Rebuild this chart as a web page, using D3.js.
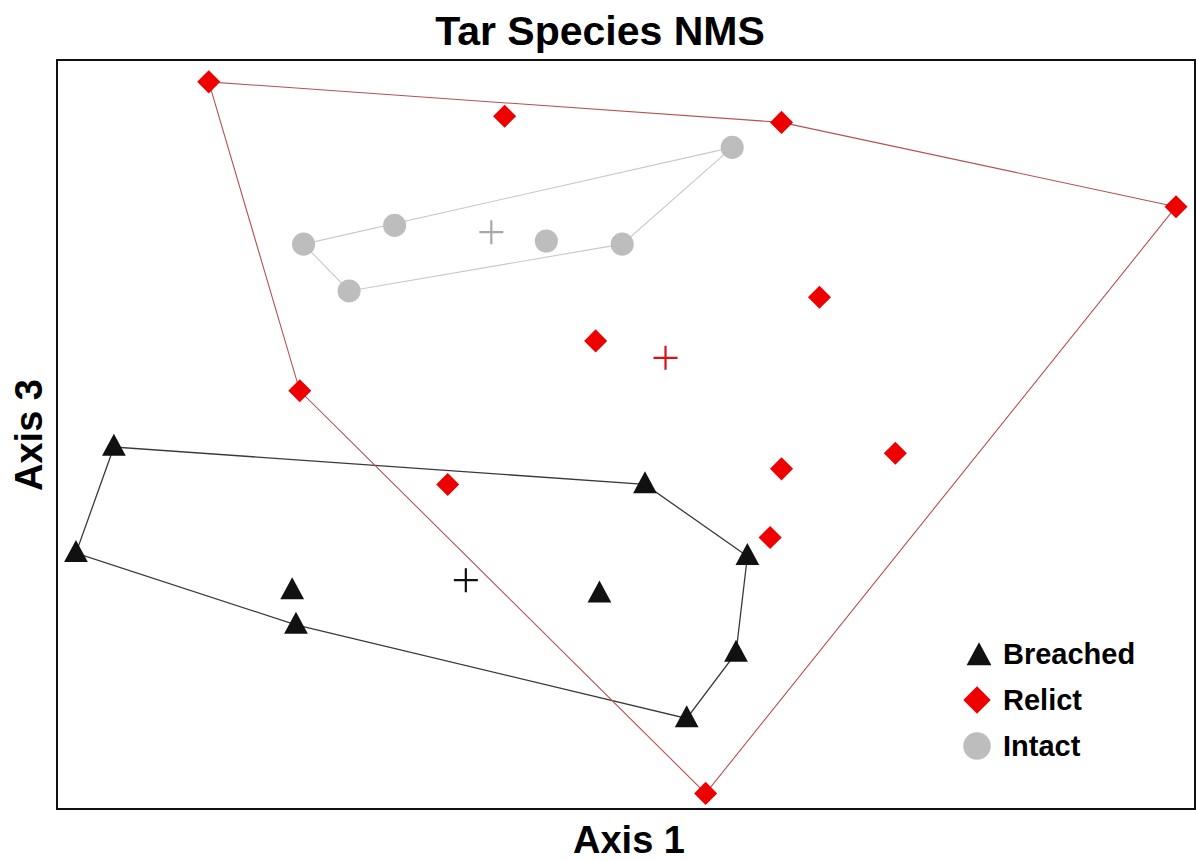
<!DOCTYPE html>
<html>
<head>
<meta charset="utf-8">
<script src="https://cdn.jsdelivr.net/npm/d3@7"></script>
<style>
  html, body { margin: 0; padding: 0; background: #fff; }
  svg { display: block; }
  text { font-family: "Liberation Sans", Arial, sans-serif; font-weight: bold; fill: #000; }
</style>
</head>
<body>
<svg id="chart" width="1196" height="861"></svg>
<script>
// NMS scores (Axis 1, Axis 3)
const breachedAxis1 = [-1.35, -1.45, -0.88, -0.87, 0.05, 0.32, -0.07, 0.29, 0.16];
const breachedAxis3 = [-0.04, -0.38, -0.50, -0.61, -0.16, -0.39, -0.51, -0.70, -0.91];

const relictAxis1 = [-1.10, -0.32, 0.41, 1.45, 0.51, -0.08, -0.86, -0.47, 0.41, 0.71, 0.38, 0.21];
const relictAxis3 = [1.13, 1.02, 1.00, 0.73, 0.44, 0.30, 0.14, -0.16, -0.11, -0.06, -0.33, -1.15];

const intactAxis1 = [0.28, -0.61, -0.21, -0.85, -0.01, -0.73];
const intactAxis3 = [0.92, 0.67, 0.62, 0.61, 0.61, 0.46];

const groupNames = ["Breached", "Relict", "Intact"];
const axis1Domain = [-1.5, 1.5];
const axis3Domain = [-1.2, 1.2];

const groups = [
  { name: "Breached", xs: breachedAxis1, ys: breachedAxis3, shape: "triangle", fill: "#111111", hull: "#3a3a3a", hullW: 1.3, plus: "#111111" },
  { name: "Relict", xs: relictAxis1, ys: relictAxis3, shape: "diamond", fill: "#ee0000", hull: "#b85050", hullW: 1.1, plus: "#dd1111" },
  { name: "Intact", xs: intactAxis1, ys: intactAxis3, shape: "circle", fill: "#bdbdbd", hull: "#c8c8c8", hullW: 1.1, plus: "#a8a8a8" }
];

const svg = d3.select("#chart");
const margin = { left: 57, top: 60, right: 1195, bottom: 809 };
const x = d3.scaleLinear().domain(axis1Domain).range([margin.left, margin.right]);
const y = d3.scaleLinear().domain(axis3Domain).range([margin.bottom, margin.top]);

function symbolPath(shape, size) {
  if (shape === "triangle") {
    const w = size * 1.08, h = size;
    return `M0,${-h * 0.6}L${w / 2},${h * 0.4}L${-w / 2},${h * 0.4}Z`;
  }
  if (shape === "diamond") {
    const r = size * 0.55;
    return `M0,${-r}L${r},0L0,${r}L${-r},0Z`;
  }
  return d3.arc()({ innerRadius: 0, outerRadius: size * 0.55, startAngle: 0, endAngle: 2 * Math.PI });
}

const plot = svg.append("g");

// hulls
groups.forEach(g => {
  const pts = g.xs.map((v, i) => [x(v), y(g.ys[i])]);
  const hull = d3.polygonHull(pts);
  plot.append("path")
    .attr("d", "M" + hull.join("L") + "Z")
    .attr("fill", "none")
    .attr("stroke", g.hull)
    .attr("stroke-width", g.hullW);
});

// points
const drawOrder = [2, 0, 1];
drawOrder.forEach(gi => {
  const g = groups[gi];
  const size = g.shape === "triangle" ? 22 : 21;
  plot.append("g").selectAll("path")
    .data(g.xs.map((v, i) => [v, g.ys[i]]))
    .join("path")
    .attr("transform", d => `translate(${x(d[0])},${y(d[1])})`)
    .attr("d", symbolPath(g.shape, size))
    .attr("fill", g.fill);
});

// centroids
groups.forEach(g => {
  const cx = x(d3.mean(g.xs)), cy = y(d3.mean(g.ys));
  const r = 12;
  plot.append("path")
    .attr("d", `M${cx - r},${cy}H${cx + r}M${cx},${cy - r}V${cy + r}`)
    .attr("stroke", g.plus)
    .attr("stroke-width", 2.2)
    .attr("fill", "none");
});

// frame
svg.append("rect")
  .attr("x", margin.left).attr("y", margin.top)
  .attr("width", margin.right - margin.left)
  .attr("height", margin.bottom - margin.top)
  .attr("fill", "none").attr("stroke", "#111").attr("stroke-width", 2);

// title & axis labels
svg.append("text").attr("x", 600).attr("y", 45).attr("text-anchor", "middle")
  .attr("font-size", 41).text("Tar Species NMS");
svg.append("text").attr("x", 629).attr("y", 853).attr("text-anchor", "middle")
  .attr("font-size", 38).text("Axis 1");
svg.append("text").attr("transform", "translate(42,435) rotate(-90)").attr("text-anchor", "middle")
  .attr("font-size", 38).text("Axis 3");

// legend
const legend = svg.append("g").attr("transform", "translate(977,654)");
groupNames.forEach((name, i) => {
  const g = groups.find(d => d.name === name);
  const row = legend.append("g").attr("transform", `translate(0,${i * 46})`);
  row.append("path")
    .attr("d", symbolPath(g.shape, g.shape === "triangle" ? 23 : 25))
    .attr("transform", g.shape === "triangle" ? "translate(2,2)" : "translate(0,0)")
    .attr("fill", g.fill);
  row.append("text").attr("x", 26).attr("y", 10).attr("font-size", 29).text(name);
});
</script>
</body>
</html>
